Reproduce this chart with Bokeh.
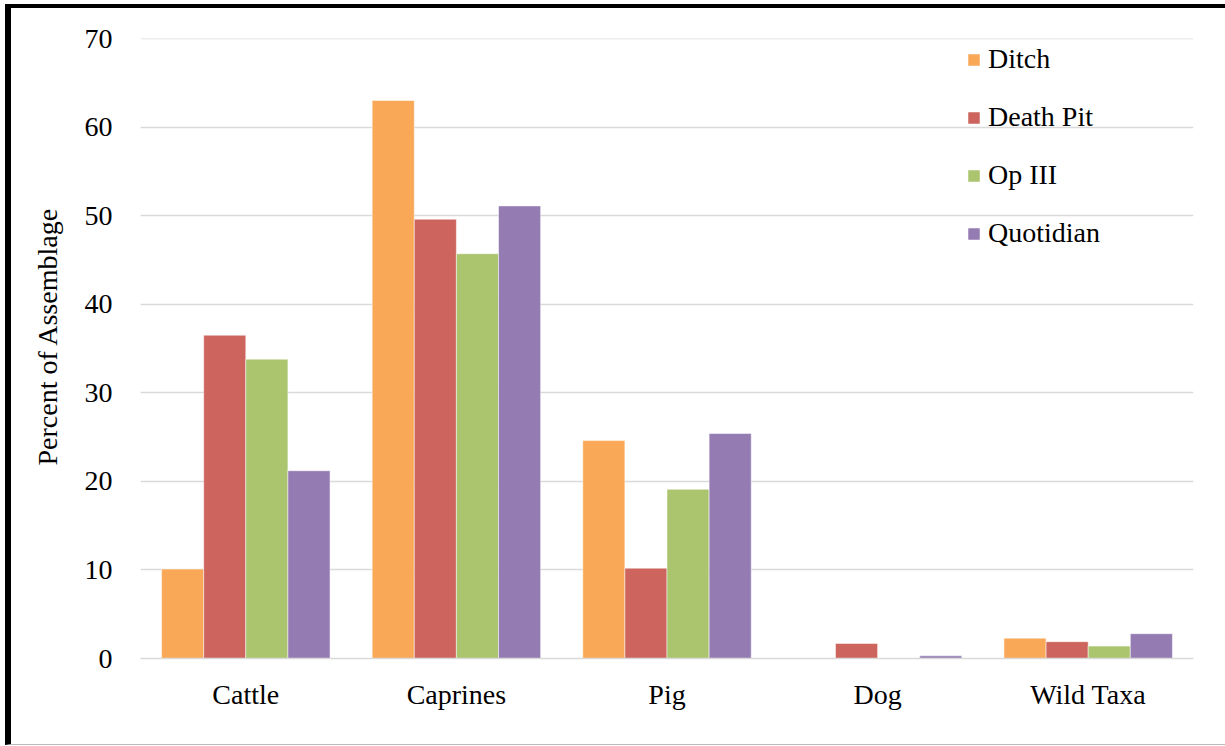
from bokeh.plotting import figure
from bokeh.models import FactorRange, Legend, LegendItem, FixedTicker, Span, Title
from bokeh.transform import dodge
from bokeh.embed import file_html
from bokeh.resources import INLINE

categories = ["Cattle", "Caprines", "Pig", "Dog", "Wild Taxa"]
series = ["Ditch", "Death Pit", "Op III", "Quotidian"]
ditch = [10.1, 63.0, 24.6, 0.0, 2.3]
death_pit = [36.5, 49.6, 10.2, 1.7, 1.9]
op_iii = [33.8, 45.7, 19.1, 0.0, 1.4]
quotidian = [21.2, 51.1, 25.4, 0.3, 2.8]
colors = ["#F9A857", "#CD655E", "#ABC56E", "#947CB2"]
y_ticks = [0, 10, 20, 30, 40, 50, 60, 70]
y_title = "Percent of Assemblage"

FONT = "Liberation Serif"

p = figure(x_range=FactorRange(*categories, range_padding=0), y_range=(0, 70),
           width=1220, height=741, output_backend="svg", toolbar_location=None,
           min_border_left=129, min_border_right=38, min_border_top=30,
           min_border_bottom=91)
p.styles = {"margin-left": "5px", "margin-top": "4px",
            "border-left": "6px solid black", "border-top": "4px solid black",
            "border-bottom": "1px solid #BBBBBB"}

data = dict(cat=categories, ditch=ditch, death_pit=death_pit, op_iii=op_iii, quotidian=quotidian)
keys = ["ditch", "death_pit", "op_iii", "quotidian"]
offsets = [-0.3, -0.1, 0.1, 0.3]
items = []
for k, off, c, name in zip(keys, offsets, colors, series):
    r = p.vbar(x=dodge("cat", off, range=p.x_range), top=k, width=0.2, source=data,
               fill_color=c, line_color="white", line_alpha=0.5, line_width=1)
    items.append(LegendItem(label=name, renderers=[r]))

legend = Legend(items=items, location=(826, 409), glyph_width=15, glyph_height=15,
                label_standoff=7, spacing=26, padding=0, margin=0,
                border_line_color=None, background_fill_alpha=0,
                label_text_font=FONT, label_text_font_size="28px", label_text_color="black")
p.add_layout(legend, "center")

p.add_layout(Span(location=y_ticks[-1], dimension="width", line_color="#D9D9D9", line_width=1.5))

# y-axis title, placed a little above the vertical centre as in the reference
p.add_layout(Title(text=y_title, align="left", offset=193, standoff=34,
                   vertical_align="top", text_font=FONT, text_font_size="28px",
                   text_font_style="normal", text_color="black"), "left")

p.xgrid.grid_line_color = None
p.ygrid.grid_line_color = "#D9D9D9"
p.ygrid.grid_line_width = 1.5
p.outline_line_color = None

p.yaxis.ticker = FixedTicker(ticks=y_ticks)
p.yaxis.axis_line_color = None
p.yaxis.major_tick_line_color = None
p.yaxis.minor_tick_line_color = None
p.yaxis.major_label_standoff = 22

p.xaxis.axis_line_color = "#D9D9D9"
p.xaxis.axis_line_width = 1.5
p.xaxis.major_tick_line_color = None
p.xaxis.minor_tick_line_color = None
p.xaxis.major_label_standoff = 14

for ax in (p.xaxis, p.yaxis):
    ax.major_label_text_font = FONT
    ax.major_label_text_font_size = "28px"
    ax.major_label_text_color = "black"

open("out.html", "w").write(file_html(p, INLINE))
